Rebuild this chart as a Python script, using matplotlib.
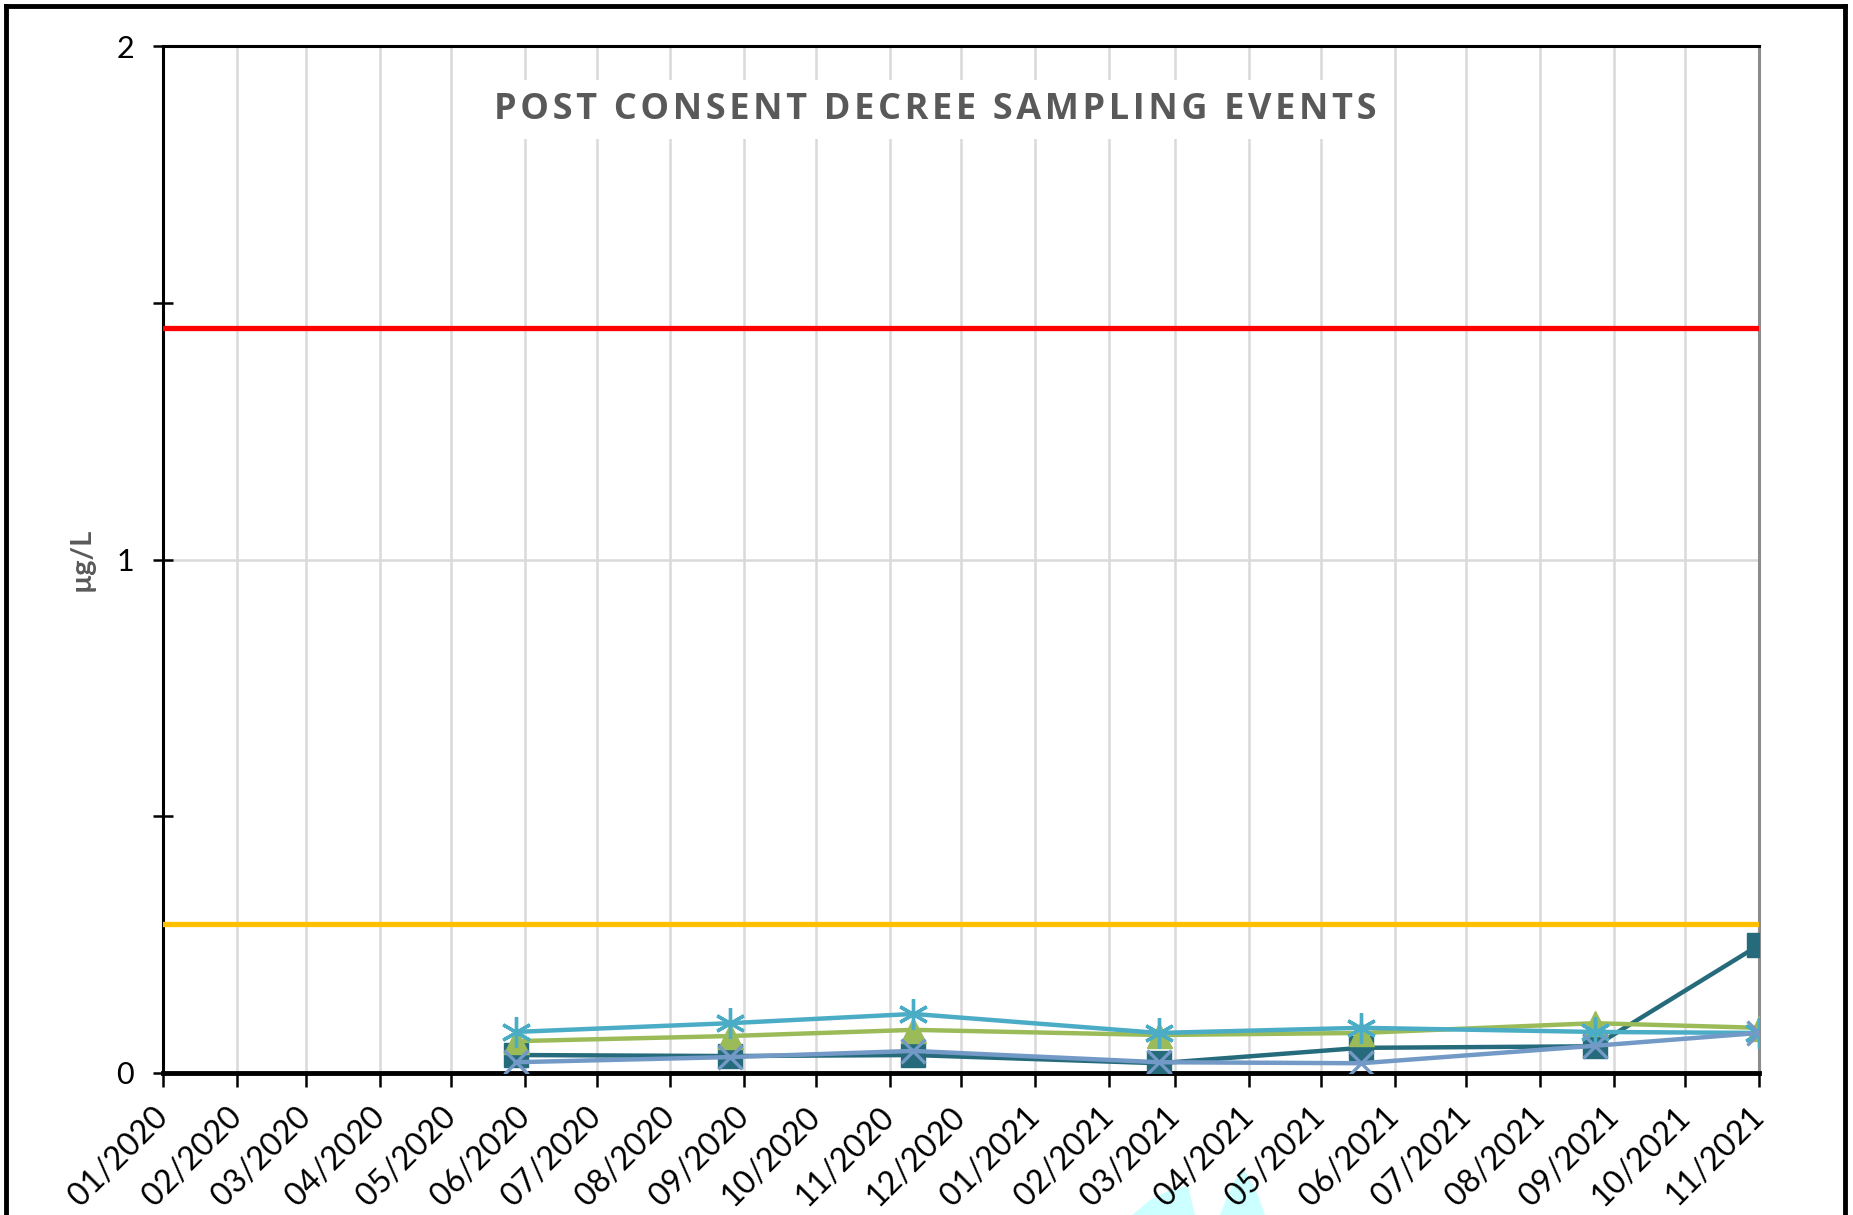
import numpy as np
import pandas as pd
import matplotlib
matplotlib.use("Agg")
import matplotlib.pyplot as plt
import matplotlib.dates as mdates
from matplotlib.lines import Line2D
from matplotlib.patches import Polygon

# sampling dates
dates = pd.to_datetime(["2020-05-28", "2020-08-26", "2020-11-11", "2021-02-22",
                        "2021-05-18", "2021-08-24", "2021-11-01"])

# concentrations (ug/L) per well
well_a = [0.035, 0.033, 0.035, 0.019, 0.049, 0.052, 0.249]   # square
well_b = [0.062, 0.072, 0.084, 0.074, 0.078, 0.097, 0.088]   # triangle
well_c = [0.080, 0.097, 0.115, 0.078, 0.088, 0.080, 0.078]   # star
well_d = [0.021, 0.031, 0.043, 0.021, 0.019, 0.053, 0.078]   # x

# screening levels
limit_red = 1.45
limit_orange = 0.29

title = "POST CONSENT DECREE SAMPLING EVENTS"

plt.rcParams['font.family'] = ['Lato', 'DejaVu Sans']

fig = plt.figure(figsize=(18.53, 12.15), dpi=100)
ax = fig.add_axes([163 / 1853, 1 - 1073 / 1215, (1759 - 163) / 1853, (1073 - 46) / 1215])

ax.axhline(limit_red, color="#ff0000", lw=3.8, zorder=3)
ax.axhline(limit_orange, color="#ffc000", lw=3.8, zorder=3)

ax.plot(dates, well_a, color="#266b7c", lw=3.2, marker="s", ms=17, zorder=4)
ax.plot(dates, well_b, color="#9bbb59", lw=3.2, marker="^", ms=18, zorder=4)
ax.plot(dates, well_c, color="#4bacc6", lw=3.2, marker=(6, 2, 0), ms=22, mew=2.4, zorder=5)
ax.plot(dates, well_d, color="#7399c6", lw=3.2, marker="x", ms=17, mew=2.4, zorder=5)

ax.set_xlim(pd.Timestamp("2020-01-01"), pd.Timestamp("2021-11-01"))
ax.set_ylim(0, 2)
ax.set_yticks([0, 1, 2])
ax.set_yticks([0.5, 1.5], minor=True)
ax.yaxis.set_major_formatter(matplotlib.ticker.FormatStrFormatter("%d"))
ax.xaxis.set_major_locator(mdates.MonthLocator())
ax.xaxis.set_major_formatter(mdates.DateFormatter("%m/%Y"))

ax.grid(True, which="major", color="#d9d9d9", lw=1.8, zorder=0)
ax.set_axisbelow(True)

ax.tick_params(axis="y", which="both", direction="inout", length=14, width=1.8,
               labelsize=22, pad=14)
ax.tick_params(axis="x", direction="out", length=10, width=1.8, labelsize=23, pad=18)
for lab in ax.get_xticklabels():
    lab.set_rotation(45)
    lab.set_ha("right")
    lab.set_va("center")
    lab.set_rotation_mode("anchor")

ax.spines["left"].set_linewidth(2.2)
ax.spines["bottom"].set_linewidth(3.5)
ax.spines["top"].set_linewidth(2.2)
ax.spines["right"].set_color("#8c8c8c")
ax.spines["right"].set_linewidth(2.2)

ax.set_ylabel("µg/L", fontsize=21, fontweight="bold", color="#595959")
ax.yaxis.set_label_coords(-0.043, 0.5)

# letter-spaced title on a white box over the grid
ax.text(0.484, 0.938, "\u200a".join(title), transform=ax.transAxes,
        ha="center", va="center", fontsize=26, fontweight="bold", color="#595959",
        family=["Open Sans", "DejaVu Sans"],
        bbox=dict(facecolor="white", edgecolor="none", pad=8), zorder=6)

# outer frame (bottom edge is cut off)
W, H = 1853.0, 1215.0
fig.add_artist(Line2D([6 / W, 6 / W], [0, 1 - 6 / H], color="black", lw=3.5))
fig.add_artist(Line2D([6 / W, 1845 / W], [1 - 6 / H, 1 - 6 / H], color="black", lw=3.5))
fig.add_artist(Line2D([1845 / W, 1845 / W], [0, 1 - 6 / H], color="black", lw=3.5))

# pale cyan shapes cut by the bottom edge
blob1 = [(1132, 1215), (1150, 1200), (1170, 1190), (1188, 1186), (1195, 1215)]
blob2 = [(1220, 1215), (1232, 1185), (1243, 1168), (1256, 1190), (1265, 1215)]
for blob in (blob1, blob2):
    pts = [(x / W, 1 - y / H) for x, y in blob]
    fig.add_artist(Polygon(pts, closed=True, facecolor="#ccffff", edgecolor="none",
                           transform=fig.transFigure, zorder=0))

fig.savefig("out.png", dpi=100, facecolor="white")
